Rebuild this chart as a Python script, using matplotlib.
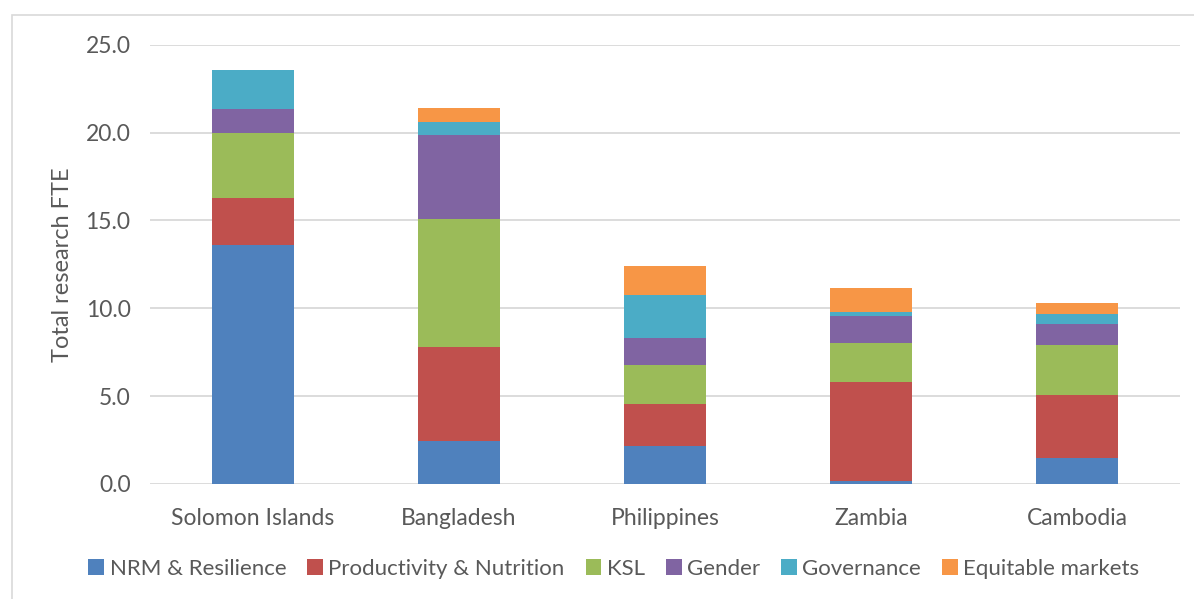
import matplotlib

matplotlib.use("Agg")
import matplotlib.pyplot as plt
import numpy as np
from matplotlib.patches import Rectangle

plt.rcParams["font.family"] = ["Lato", "DejaVu Sans"]

countries = ["Solomon Islands", "Bangladesh", "Philippines", "Zambia", "Cambodia"]
series_names = ["NRM & Resilience", "Productivity & Nutrition", "KSL", "Gender",
                "Governance", "Equitable markets"]
nrm = [13.60, 2.47, 2.14, 0.15, 1.46]
productivity = [2.70, 5.34, 2.43, 5.66, 3.62]
ksl = [3.68, 7.26, 2.20, 2.22, 2.83]
gender = [1.37, 4.81, 1.56, 1.55, 1.18]
governance = [2.20, 0.71, 2.43, 0.23, 0.60]
equitable = [0.00, 0.79, 1.67, 1.33, 0.63]
colors = ["#4f81bd", "#c0504d", "#9bbb59", "#8064a2", "#4bacc6", "#f79646"]

TXT = "#595959"
GRID = "#d9d9d9"

fig = plt.figure(figsize=(11.94, 5.99), dpi=100)
# chart area border like the Excel frame
fig.patches.append(Rectangle((12 / 1194, -0.1), 1.2, 1 - 15 / 599 + 0.1,
                             transform=fig.transFigure, fill=False,
                             edgecolor=GRID, linewidth=1.2))
ax = fig.add_axes([150 / 1194, 1 - 484 / 599, 1030 / 1194, (484 - 44.7) / 599])

x = np.arange(len(countries))
bottom = np.zeros(len(countries))
for name, vals, c in zip(series_names, [nrm, productivity, ksl, gender, governance, equitable], colors):
    ax.bar(x, vals, 0.40, bottom=bottom, color=c, label=name, zorder=3)
    bottom += np.array(vals)

ax.set_xlim(-0.5, len(countries) - 0.5)
ax.set_ylim(0, 25)
ax.set_yticks(np.arange(0, 25.1, 5))
ax.set_yticklabels([f"{v:.1f}" for v in np.arange(0, 25.1, 5)])
ax.set_xticks(x)
ax.set_xticklabels(countries)
ax.tick_params(axis="both", length=0, labelsize=16.5, colors=TXT)
ax.tick_params(axis="y", pad=14)
ax.tick_params(axis="x", pad=17)
ax.yaxis.grid(True, color=GRID, linewidth=1.3, zorder=0)
for s in ax.spines.values():
    s.set_visible(False)
ax.set_ylabel("Total research FTE", fontsize=17, color=TXT, labelpad=9)

fig.legend(loc="center", bbox_to_anchor=(614 / 1194, 1 - 569 / 599), ncol=6,
           frameon=False, fontsize=16, labelcolor=TXT, handlelength=0.7,
           handleheight=0.7, handletextpad=0.25, columnspacing=0.95)

fig.savefig("out.png", dpi=100)
